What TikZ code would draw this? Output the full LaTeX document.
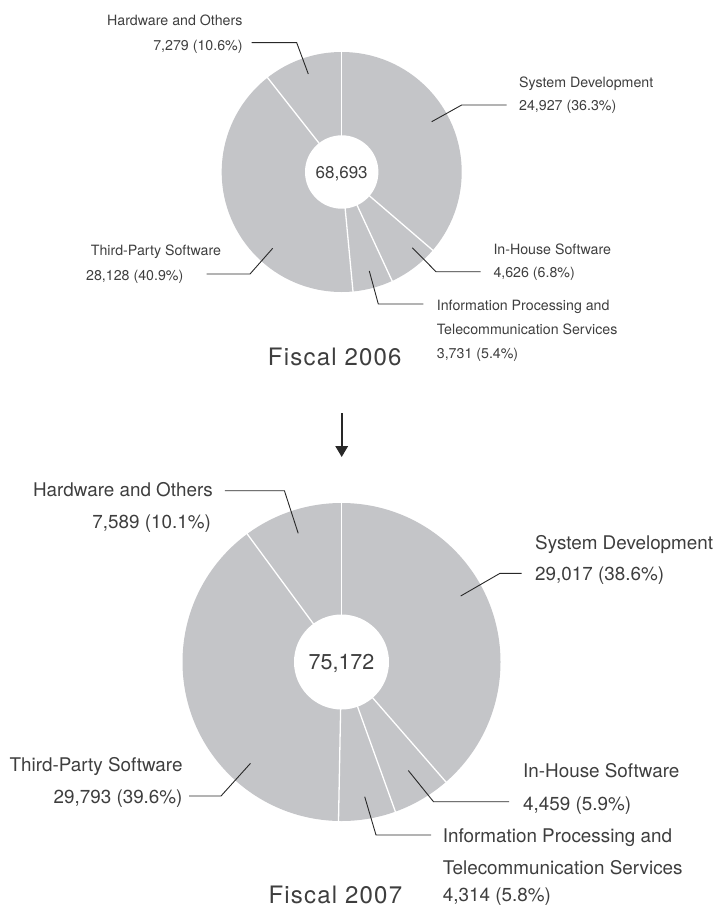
\documentclass[tikz,border=0pt]{standalone}
\usepackage{fontspec}
\setmainfont{TeX Gyre Heros}
\usetikzlibrary{arrows.meta}
\definecolor{slicegray}{RGB}{196,197,200}
\definecolor{txt}{RGB}{62,62,62}
\definecolor{ldr}{RGB}{40,40,40}
\tikzset{
  lblA/.style={font=\fontsize{14.2}{17}\selectfont, text=txt, inner sep=0pt},
  lblB/.style={font=\fontsize{18.85}{22}\selectfont, text=txt, inner sep=0pt},
  fiscal/.style={font=\fontsize{24}{28}\selectfont\addfontfeatures{LetterSpace=5}, text=txt, inner sep=0pt},
  leader/.style={draw=ldr, line width=0.9pt},
  sep/.style={draw=white, line width=1.3pt},
}
\begin{document}
\begin{tikzpicture}[x=1pt,y=-1pt]
\useasboundingbox (0,0) rectangle (719,907);

% ---------- Fiscal 2006 ----------
\coordinate (c1) at (341.7,172);
\fill[slicegray] (c1) circle[radius=120pt];
\fill[white] (c1) circle[radius=36.7pt];
\begin{scope}[shift={(c1)}]
  \foreach \a in {90,-40.68,-65.16,-84.6,128.16}
    \draw[sep] (\a:35pt) -- (\a:122pt);
\end{scope}
\node[lblA, font=\fontsize{17}{20}\selectfont, anchor=base] (tot1) at (341.7,178) {68,693};

\node[lblA, anchor=base east] (hw1) at (242.7,25.1) {Hardware and Others};
\node[lblA, anchor=base east] (hw2) at (242.7,50.1) {7,279 (10.6\%)};
\node[lblA, anchor=base west] (sd1) at (519,87.1) {System Development};
\node[lblA, anchor=base west] (sd2) at (519,110.1) {24,927 (36.3\%)};
\node[lblA, anchor=base west] (tp1) at (90.7,255.1) {Third-Party Software};
\node[lblA, anchor=base west] (tp2) at (86,280.1) {28,128 (40.9\%)};
\node[lblA, anchor=base west] (ih1) at (493.3,254.4) {In-House Software};
\node[lblA, anchor=base west] (ih2) at (493.3,277.8) {4,626 (6.8\%)};
\node[lblA, anchor=base west] (ip1) at (436.7,310.1) {Information Processing and};
\node[lblA, anchor=base west] (ip2) at (436.7,334.4) {Telecommunication Services};
\node[lblA, anchor=base west] (ip3) at (436.7,358.4) {3,731 (5.4\%)};
\node[fiscal, anchor=base east] (fy1) at (401.7,365.5) {Fiscal 2006};

\coordinate (hwP) at (308.3,74);   \coordinate (hwK) at (296.7,42.7);  \coordinate (hwE) at (251.7,42.7);
\coordinate (sdP) at (431.7,121.7); \coordinate (sdK) at (461.7,105);  \coordinate (sdE) at (506.7,105);
\coordinate (tpP) at (272.7,248.3); \coordinate (tpK) at (250,274);    \coordinate (tpE) at (206.7,274);
\coordinate (ihP) at (412.3,247.7); \coordinate (ihK) at (436,271.7);  \coordinate (ihE) at (480.7,271.7);
\coordinate (ipP) at (369.3,271);   \coordinate (ipK) at (378.3,304);  \coordinate (ipE) at (423.3,304);
\draw[leader] (hwP) -- (hwK) -- (hwE);
\draw[leader] (sdP) -- (sdK) -- (sdE);
\draw[leader] (tpP) -- (tpK) -- (tpE);
\draw[leader] (ihP) -- (ihK) -- (ihE);
\draw[leader] (ipP) -- (ipK) -- (ipE);

% ---------- arrow ----------
\coordinate (arS) at (341.7,413);
\coordinate (arE) at (341.7,457);
\draw[ldr, line width=1.8pt, -{Triangle[width=12.5pt,length=11pt]}] (arS) -- (arE);

% ---------- Fiscal 2007 ----------
\coordinate (c2) at (341.5,662);
\fill[slicegray] (c2) circle[radius=159pt];
\fill[white] (c2) circle[radius=47.5pt];
\begin{scope}[shift={(c2)}]
  \foreach \a in {90,-48.96,-70.2,-91.08,126.36}
    \draw[sep] (\a:46pt) -- (\a:161pt);
\end{scope}
\node[lblB, font=\fontsize{21.5}{25}\selectfont, anchor=base] (tot2) at (341.5,669.5) {75,172};

\node[lblB, anchor=base east] (hwb1) at (213,496.8) {Hardware and Others};
\node[lblB, anchor=base east] (hwb2) at (211,528.5) {7,589 (10.1\%)};
\node[lblB, anchor=base west] (sdb1) at (535,549.5) {System Development};
\node[lblB, anchor=base west] (sdb2) at (535,580) {29,017 (38.6\%)};
\node[lblB, anchor=base east] (tpb1) at (182.7,771.8) {Third-Party Software};
\node[lblB, anchor=base east] (tpb2) at (182.7,803.5) {29,793 (39.6\%)};
\node[lblB, anchor=base west] (ihb1) at (523,777.8) {In-House Software};
\node[lblB, anchor=base west] (ihb2) at (523,810.1) {4,459 (5.9\%)};
\node[lblB, anchor=base west] (ipb1) at (442.7,842.5) {Information Processing and};
\node[lblB, anchor=base west] (ipb2) at (442.7,874.6) {Telecommunication Services};
\node[lblB, anchor=base west] (ipb3) at (442.7,901.5) {4,314 (5.8\%)};
\node[fiscal, anchor=base east] (fy2) at (402.3,903) {Fiscal 2007};

\coordinate (hwbP) at (298.2,533.3); \coordinate (hwbK) at (284.4,490.7); \coordinate (hwbE) at (224.8,490.7);
\coordinate (sdbP) at (460.7,596);   \coordinate (sdbK) at (500,573.3);   \coordinate (sdbE) at (521.7,573.3);
\coordinate (tpbP) at (250.5,763.3); \coordinate (tpbK) at (221,796);     \coordinate (tpbE) at (189,796);
\coordinate (ihbP) at (408.3,770.5); \coordinate (ihbK) at (433.5,801.7); \coordinate (ihbE) at (509,801.7);
\coordinate (ipbP) at (364.7,796.7); \coordinate (ipbK) at (376,835);     \coordinate (ipbE) at (431.2,835);
\draw[leader] (hwbP) -- (hwbK) -- (hwbE);
\draw[leader] (sdbP) -- (sdbK) -- (sdbE);
\draw[leader] (tpbP) -- (tpbK) -- (tpbE);
\draw[leader] (ihbP) -- (ihbK) -- (ihbE);
\draw[leader] (ipbP) -- (ipbK) -- (ipbE);
\end{tikzpicture}
\end{document}
